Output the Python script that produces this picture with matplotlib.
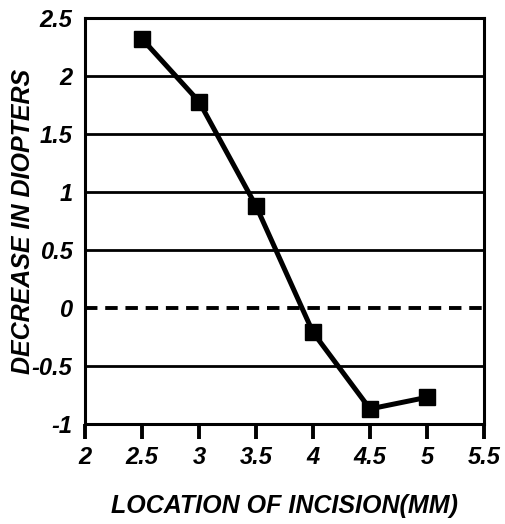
import numpy as np
import matplotlib as mpl
mpl.use("Agg")
from matplotlib import pyplot as plt

location = [2.5, 3.0, 3.5, 4.0, 4.5, 5.0]
decrease = [2.32, 1.78, 0.88, -0.21, -0.87, -0.77]
xticks = [2, 2.5, 3, 3.5, 4, 4.5, 5, 5.5]
yticks = [-1, -0.5, 0, 0.5, 1, 1.5, 2, 2.5]

plt.rcParams['font.family'] = ['Liberation Sans', 'DejaVu Sans']

fig = plt.figure(figsize=(5.06, 5.24), dpi=100)
ax = fig.add_axes([85/506, 1 - 424/524, 399/506, 406/524])

# solid gridlines, dashed one at zero
for yv in yticks:
    if yv == 0:
        ax.axhline(yv, color='black', lw=2.8, ls=(0, (3.2, 2.0)), zorder=1)
    elif yv not in (-1, 2.5):
        ax.axhline(yv, color='black', lw=2.0, zorder=1)

ax.plot(location, decrease, color='black', lw=3.6, marker='s', ms=12,
        zorder=3)

ax.set_xlim(2, 5.5)
ax.set_ylim(-1, 2.5)
ax.set_xticks(xticks)
ax.set_xticklabels([f"{v:g}" for v in xticks])
ax.set_yticks(yticks)
ax.set_yticklabels([f"{v:g}" for v in yticks])

for s in ax.spines.values():
    s.set_linewidth(2.2)
ax.tick_params(axis='x', direction='out', length=11, width=2.8, pad=5,
               labelsize=17)
ax.tick_params(axis='y', length=0, pad=9, labelsize=17)
for lab in ax.get_xticklabels() + ax.get_yticklabels():
    lab.set_fontweight('bold')
    lab.set_fontstyle('italic')

ax.set_xlabel("LOCATION OF INCISION(MM)", fontsize=18, fontweight='bold',
              fontstyle='italic', labelpad=18)
ax.set_ylabel("DECREASE IN DIOPTERS", fontsize=18, fontweight='bold',
              fontstyle='italic', labelpad=-2)

plt.savefig('out.png', dpi=100)
